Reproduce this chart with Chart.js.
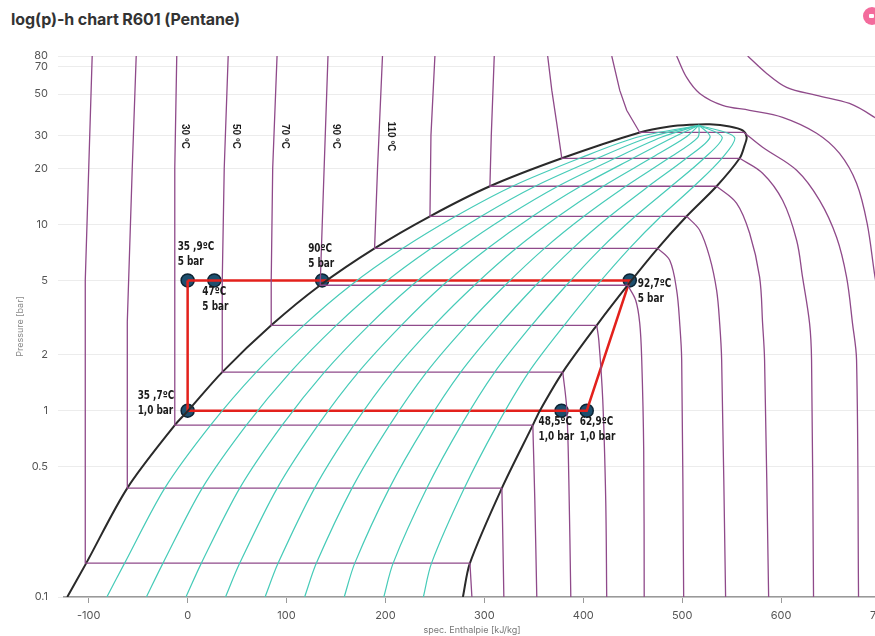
<!DOCTYPE html>
<html><head><meta charset="utf-8">
<script src="https://cdn.jsdelivr.net/npm/chart.js@4.4.1/dist/chart.umd.min.js"></script>
<style>
html,body{margin:0;padding:0;width:875px;height:636px;overflow:hidden;background:#fff;}
#title{position:absolute;left:11px;top:9px;font:bold 16px Inter,"Open Sans",sans-serif;color:#333;letter-spacing:-0.1px;}
#icon{position:absolute;left:863px;top:7px;width:18px;height:18px;border-radius:50%;background:#f36b9c;}
#icon:after{content:"";position:absolute;left:6px;top:7px;width:5px;height:4px;background:#fff;border-radius:1px;}
canvas{position:absolute;left:0;top:0;}
</style></head><body>
<div id="title">log(p)-h chart R601 (Pentane)</div>
<div id="icon"></div>
<canvas id="c" width="900" height="636"></canvas>
<script>
// ---- axis ticks ----
const tickP = [0.1, 0.5, 1, 2, 5, 10, 20, 30, 50, 70, 80];
const tickH = [-100, 0, 100, 200, 300, 400, 500, 600, 700];

// ---- saturation dome (liquid branch up, around the top, vapour branch down) ----
const domeH = [-121.7,-102.5,-61,-13,0.5,35,84.5,134,189,245,305.6,378.3,457.1,487.4,507.6,527.8,548,561.1,565.2,563.1,558.1,534.8,504.5,475.3,444.9,413.6,379.3,356.1,349,317.7,285.4,278.3];
const domeP = [0.1,0.152,0.384,0.836,1.0,1.61,2.87,4.71,7.43,11.04,16.0,22.6,31.1,33.5,34.2,34.4,33.5,31.9,29.3,26.5,22.6,16.0,11.04,7.43,4.71,2.87,1.61,1.0,0.836,0.384,0.152,0.1];

// ---- vapour quality lines x = 0.1 ... 0.9 (h at the pressures of qualityP) ----
const qualityP = [0.1,0.152,0.384,0.836,1.61,2.87,4.71,7.43,11.04,16.0,22.6,29.3,34.0];
const q1 = [-81.7,-63.7,-23.1,23.2,69.4,117.4,165.0,217.6,271.0,328.5,396.3,454.2,517];
const q2 = [-41.7,-24.9,14.8,59.4,103.9,150.3,196.0,246.3,296.9,351.4,414.3,466.6,517];
const q3 = [-1.7,13.9,52.7,95.6,138.3,183.2,227.0,274.9,322.9,374.4,432.2,478.9,517];
const q4 = [38.3,52.7,90.6,131.8,172.7,216.1,258.0,303.5,348.8,397.3,450.2,491.2,517];
const q5 = [78.3,91.5,128.4,168.0,207.2,249.1,290.0,332.2,374.8,420.2,468.2,503.6,517];
const q6 = [118.3,130.2,166.2,204.2,241.6,282.0,321.0,360.8,400.7,443.1,486.2,515.9,517];
const q7 = [158.3,169.0,204.0,240.4,276.1,314.9,352.0,389.4,426.7,466.0,504.2,528.2,517];
const q8 = [198.3,207.8,241.9,276.6,310.5,347.8,382.9,418.0,452.6,489.0,522.1,540.5,517];
const q9 = [238.3,246.6,279.8,312.8,344.9,380.7,413.9,446.7,478.6,511.9,540.1,552.9,517];
const qualityLines = [q1,q2,q3,q4,q5,q6,q7,q8,q9];

// ---- isotherms [h, p]: liquid part + two-phase horizontal, and vapour part ----
const isoM10Liq = [[-96.5,80],[-100,20],[-103.5,5],[-103.5,0.152],[285.4,0.152]];
const isoM10Vap = [[285.4,0.152],[287.4,0.1]];
const iso10Liq = [[-52,80],[-56,20],[-61,3],[-61,0.384],[317.7,0.384]];
const iso10Vap = [[317.7,0.384],[318.7,0.202],[319.7,0.1]];
const iso30Liq = [[-11,80],[-13,20],[-13,0.836],[349,0.836]];
const iso30Vap = [[349,0.836],[351,0.331],[353,0.1]];
const iso50Liq = [[41,80],[37,20],[35,5],[35,1.61],[379.3,1.61]];
const iso50Vap = [[379.3,1.61],[383.3,1.02],[385.4,0.424],[387.4,0.1]];
const iso70Liq = [[90.4,80],[86,20],[84.5,5],[84.5,2.87],[413.6,2.87]];
const iso70Vap = [[413.6,2.87],[415.7,2.39],[419.7,1.14],[422.7,0.331],[423.7,0.1]];
const iso90Liq = [[141.9,80],[138,20],[134,4.71],[444.9,4.71]];
const iso90Vap = [[444.9,4.71],[453,3.91],[457.1,2.94],[459.1,1.87],[461.1,0.614],[461.6,0.1]];
const iso110Liq = [[197,80],[192,20],[189,7.43],[475.3,7.43]];
const iso110Vap = [[475.3,7.43],[487.4,6.41],[494.4,4.43],[497.5,2.94],[499.5,1.87],[501.5,0.1]];
const iso130Liq = [[250,80],[246,30],[245,11.04],[504.5,11.04]];
const iso130Vap = [[504.5,11.04],[517.7,9.29],[527.8,6.65],[534.8,4.43],[537.9,2.94],[539.9,1.87],[543.9,0.1]];
const iso150Liq = [[310,80],[307,30],[305.6,16],[534.8,16]];
const iso150Vap = [[534.8,16],[555.1,12.96],[568.2,8.95],[578.3,5.2],[581.3,2.94],[583.3,1.87],[587.4,0.1]];
const iso170Liq = [[364,80],[368.2,52.3],[373.2,34.8],[378.3,22.6],[558.1,22.6]];
const iso170Vap = [[558.1,22.6],[581.3,18.8],[601.5,13.45],[615.7,8.21],[621.7,5.2],[628.8,2.94],[630.8,1.87],[632.8,0.1]];
const iso190Liq = [[428.8,80],[436.9,52.3],[443.9,40.9],[457.1,31.1],[562.5,31.1]];
const iso190Vap = [[562.5,31.1],[581.3,25.9],[615.7,19.5],[638.9,13.45],[656.1,8.52],[666.2,5.2],[672.2,2.94],[676.3,1.87],[678.3,0.1]];
const iso210 = [[494.4,80],[504.5,61.4],[517.7,50.4],[540.9,43.5],[568.2,40.9],[601.5,37.5],[635.9,30.8],[659.1,24],[676.3,16.6],[687,10.1],[695,5.2],[706,2.39],[716,0.614],[721,0.1]];
const iso230 = [[566.2,80],[585.4,64.5],[605.6,54.3],[635.9,49.2],[669.2,44.5],[694.4,37.5],[719.7,30],[739.9,22]];
const isoLiquidParts = [isoM10Liq,iso10Liq,iso30Liq,iso50Liq,iso70Liq,iso90Liq,iso110Liq,iso130Liq,iso150Liq,iso170Liq,iso190Liq];
const isoVapourParts = [isoM10Vap,iso10Vap,iso30Vap,iso50Vap,iso70Vap,iso90Vap,iso110Vap,iso130Vap,iso150Vap,iso170Vap,iso190Vap,iso210,iso230];

// isotherm labels
const isoLabelText = ['30 ºC','50 ºC','70 ºC','90 ºC','110 ºC'];
const isoLabelLines = [iso30Liq,iso50Liq,iso70Liq,iso90Liq,iso110Liq];

// ---- refrigeration cycle ----
const cycleH = [0, 27, 136, 447, 403.5, 378, 0, 0];
const cycleP = [5, 5, 5, 5, 1, 1, 1, 5];
const pointH = [0, 27, 136, 447, 403.5, 378, 0];
const pointP = [5, 5, 5, 5, 1, 1, 1];
const pointLabels = [['35 ,9ºC','5 bar'],['47ºC','5 bar'],['90ºC','5 bar'],['92,7ºC','5 bar'],['62,9ºC','1,0 bar'],['48,5ºC','1,0 bar'],['35 ,7ºC','1,0 bar']];

// ---- styles ----
const labelOffsets = [[-10,-33],[-12,12],[-14,-31],[8,4],[-7,11],[-23,11],[-50,-15]];
const PURPLE = '#8f4a8a', TEAL = '#46cbb8', DOME = '#2a2a2a', RED = '#e3211c';

const xy = arr => arr.map(([h,p]) => ({x:h, y:p}));
const datasets = [];
qualityLines.forEach(q => datasets.push({data: q.map((h,i)=>({x:h,y:qualityP[i]})), borderColor:TEAL, borderWidth:1.2, tension:0.3}));
isoLiquidParts.forEach(a => datasets.push({data: xy(a), borderColor:PURPLE, borderWidth:1.3, tension:0}));
isoVapourParts.forEach(a => datasets.push({data: xy(a), borderColor:PURPLE, borderWidth:1.3, tension:0.35}));
datasets.push({data: domeH.map((h,i)=>({x:h,y:domeP[i]})), borderColor:DOME, borderWidth:2, tension:0.3});
datasets.push({data: cycleH.map((h,i)=>({x:h,y:cycleP[i]})), borderColor:RED, borderWidth:2.5, tension:0});
datasets.push({data: pointH.map((h,i)=>({x:h,y:pointP[i]})), showLine:false, pointRadius:6.5, pointBackgroundColor:'#1d4f6e', pointBorderColor:'#0c2434', pointBorderWidth:1.5});
datasets.forEach(d => { if (d.showLine === undefined) { d.showLine = true; d.pointRadius = 0; } d.fill = false; });

const labelPlugin = {
  id: 'labels',
  afterDatasetsDraw(chart) {
    const {ctx, scales:{x, y}} = chart;
    ctx.save();
    ctx.fillStyle = '#1b1b1b';
    ctx.textBaseline = 'middle';
    ctx.textAlign = 'left';
    ctx.font = 'bold 11.5px "DejaVu Sans Condensed","Liberation Sans",sans-serif';
    pointLabels.forEach((lines, i) => {
      const px = x.getPixelForValue(pointH[i]), py = y.getPixelForValue(pointP[i]);
      const [dx, dy] = labelOffsets[i];
      lines.forEach((t, j) => {
        ctx.save();
        ctx.translate(px + dx, py + dy + j * 15);
        ctx.scale(0.86, 1);
        ctx.fillText(t, 0, 0);
        ctx.restore();
      });
    });
    ctx.font = 'bold 10px "Liberation Sans","DejaVu Sans",sans-serif';
    ctx.textAlign = 'center';
    isoLabelText.forEach((t, i) => {
      const top = isoLabelLines[i][0];
      const px = x.getPixelForValue(top[0]) + 8;
      const py = y.getPixelForValue(30) + 1;
      ctx.save();
      ctx.translate(px, py);
      ctx.rotate(Math.PI / 2);
      ctx.fillText(t, 0, 0);
      ctx.restore();
    });
    ctx.restore();
  }
};

new Chart(document.getElementById('c'), {
  type: 'scatter',
  data: { datasets },
  options: {
    responsive: false, animation: false, devicePixelRatio: 1,
    layout: { padding: { top: 56, right: 20, left: 0, bottom: 0 } },
    plugins: { legend: { display: false }, tooltip: { enabled: false } },
    scales: {
      x: {
        type: 'linear', min: -125, max: 700,
        afterBuildTicks: s => { s.ticks = tickH.map(v => ({value: v})); },
        afterFit: s => { s.height = 39; },
        grid: { drawOnChartArea: false, drawTicks: true, tickLength: 6, color: '#999' },
        border: { display: true, color: '#999', width: 1.5 },
        ticks: { autoSkip: false, maxRotation: 0, padding: 6, color: '#555', font: { size: 11, family: 'Inter' } },
        title: { display: true, text: 'spec. Enthalpie [kJ/kg]', color: '#777', font: { size: 9, family: 'Inter' }, padding: { top: 2, bottom: 0 } }
      },
      y: {
        type: 'logarithmic', min: 0.1, max: 80,
        afterBuildTicks: s => { s.ticks = tickP.map(v => ({value: v})); },
        afterFit: s => { s.width = 64; },
        grid: { color: '#ececec', tickLength: 6 },
        border: { display: false },
        ticks: { padding: 10, color: '#555', font: { size: 11, family: 'Inter' }, callback: v => String(v) },
        title: { display: true, text: 'Pressure [bar]', color: '#888', font: { size: 9, family: 'Inter' }, padding: { top: 15, bottom: 0 } }
      }
    }
  },
  plugins: [labelPlugin]
});
</script>
</body></html>
